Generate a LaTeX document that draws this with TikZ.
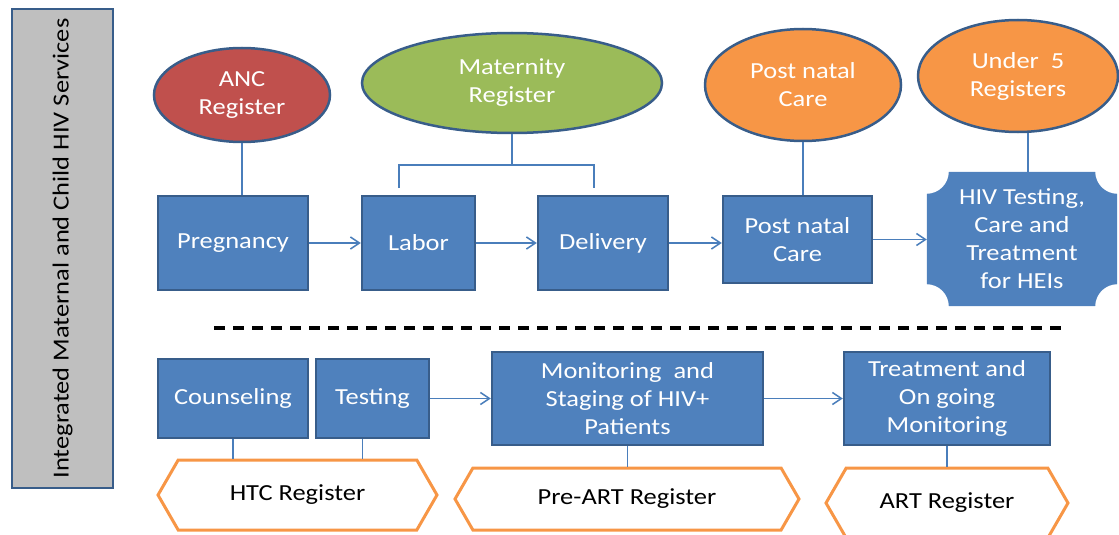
\documentclass[tikz,border=0pt]{standalone}
\usepackage{fontspec}
\setmainfont{Carlito}[FakeStretch=1.15]
\usepackage{tikz}
\usetikzlibrary{shapes.geometric}
\usetikzlibrary{shapes.symbols}
\usetikzlibrary{arrows.meta}
\usetikzlibrary{backgrounds}

\definecolor{boxblue}{HTML}{4F81BD}
\definecolor{boxedge}{HTML}{385D8A}
\definecolor{linkblue}{HTML}{4A7EBB}
\definecolor{ancred}{HTML}{C0504D}
\definecolor{matgreen}{HTML}{9BBB59}
\definecolor{regorange}{HTML}{F79646}
\definecolor{sidegray}{HTML}{BFBFBF}

\begin{document}
\begin{tikzpicture}[x=1pt, y=-1pt,
  every node/.style={font=\fontsize{23}{28}\selectfont, align=center, inner sep=0pt},
  box/.style={draw=boxedge, line width=2.5pt, fill=boxblue, text=white},
  oval/.style={ellipse, draw=boxedge, line width=2.5pt, text=white},
  reg/.style={signal, signal to=west and east, signal pointer angle=120,
    draw=regorange, line width=3pt, fill=white},
  link/.style={draw=linkblue, line width=1.5pt},
  >={Straight Barb[length=9pt,width=12pt]}]

\useasboundingbox (0,0) rectangle (1119,535);

\node (SIDE) [rotate=90, draw=boxedge, line width=2pt, fill=sidegray,
  minimum width=479, minimum height=101] at (62.5,248.5)
  {Integrated Maternal and Child HIV Services};

\node (ANC) [oval, fill=ancred, minimum width=176, minimum height=94] at (242,95) {ANC\\Register};
\node (MAT) [oval, fill=matgreen, minimum width=300, minimum height=100] at (512,83) {Maternity\\Register};
\node (PNC) [oval, fill=regorange, minimum width=196, minimum height=112] at (803,85) {Post natal\\Care};
\node (U5) [oval, fill=regorange, minimum width=200, minimum height=112] at (1018,76) {Under~ 5\\Registers};

\node (PREG) [box, minimum width=150, minimum height=94] at (233,243) {Pregnancy};
\node (LAB) [box, minimum width=113, minimum height=94] at (418.5,243) {Labor};
\node (DEL) [box, minimum width=130, minimum height=94] at (603,243) {Delivery};
\node (PNB) [box, minimum width=149, minimum height=87] at (797.5,239.5) {Post natal\\Care};
\node (HEI) [text=white, minimum width=190, minimum height=134] at (1022,239)
  {HIV Testing,\\Care and\\Treatment\\for HEIs};
\begin{scope}[on background layer]
\fill[boxblue] ([yshift=-22pt]HEI.north west) arc[start angle=90, end angle=0, radius=22]
  -- ([xshift=-22pt]HEI.north east) arc[start angle=180, end angle=90, radius=22]
  -- ([yshift=22pt]HEI.south east) arc[start angle=270, end angle=180, radius=22]
  -- ([xshift=22pt]HEI.south west) arc[start angle=0, end angle=-90, radius=22] -- cycle;
\end{scope}

\draw[link] (ANC.south) -- (ANC.south |- PREG.north);
\coordinate (FORK) at (512,165);
\coordinate (BL) at (399,188); \coordinate (BR) at (594,188);
\draw[link] (MAT.south) -- (FORK);
\draw[link] (BL) |- (FORK) -| (BR);
\draw[link] (PNC.south) -- (PNC.south |- PNB.north);
\draw[link] ([xshift=10pt]U5.south) -- ([xshift=10pt]U5.south |- HEI.north);

\draw[link, ->] (PREG) -- (LAB);
\draw[link, ->] (LAB) -- (DEL);
\draw[link, ->] (DEL.east) -- (DEL.east -| PNB.west);
\draw[link, ->] (PNB.east) -- (PNB.east -| HEI.west);

\coordinate (DL) at (214,328); \coordinate (DR) at (1063,328);
\draw[line width=4pt, dash pattern=on 11pt off 8pt] (DL) -- (DR);

\node (CNS) [box, minimum width=150, minimum height=79] at (233,398.5) {Counseling};
\node (TST) [box, minimum width=113, minimum height=79] at (372.5,398.5) {Testing};
\node (MON) [box, minimum width=271, minimum height=93] at (627.5,398.5)
  {Monitoring~ and\\Staging of HIV+\\Patients};
\node (TRT) [box, minimum width=206, minimum height=93] at (947,398.5)
  {Treatment and\\On going\\Monitoring};

\node (HTC) [reg, minimum width=279, minimum height=70] at (297.5,495) {HTC Register};
\node (PRE) [reg, minimum width=344, minimum height=62] at (627,499) {Pre-ART Register};
\node (ART) [reg, minimum width=242, minimum height=70] at (947,503) {ART Register};

\draw[link, ->] (TST) -- (MON);
\draw[link, ->] (MON) -- (TRT);

\draw[link] (CNS.south) -- (CNS.south |- HTC.north);
\draw[link] ([xshift=-10pt]TST.south) -- ([xshift=-10pt]TST.south |- HTC.north);
\draw[link] (MON.south) -- (MON.south |- PRE.north);
\draw[link] (TRT.south) -- (TRT.south |- ART.north);

\end{tikzpicture}
\end{document}
